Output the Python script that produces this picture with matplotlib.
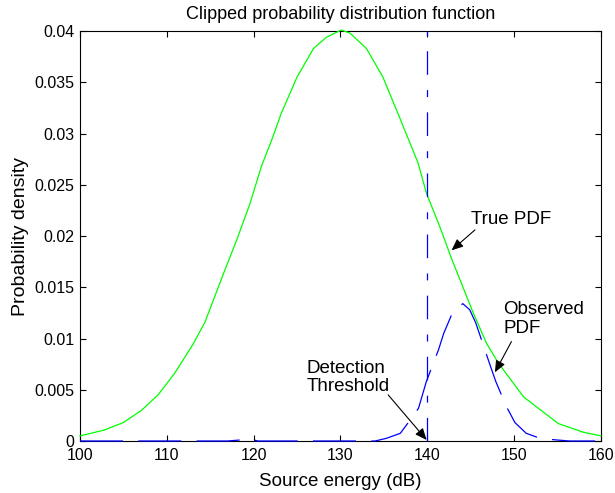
import matplotlib
matplotlib.use("Agg")
import matplotlib.pyplot as plt

plt.rcParams['font.family'] = ['Liberation Sans', 'DejaVu Sans']
plt.rcParams['lines.scale_dashes'] = False

# True PDF (green)
true_x = [100, 101.5, 102.8, 105, 107.1, 109, 110.9, 113, 114.4, 116.7, 118.05,
          119.6, 120.9, 122.1, 123.2, 125, 126.9, 128.4, 130.1, 131.1, 133, 134.9,
          136.85, 138.96, 139.9, 141.5, 142.8, 145.3, 146.85, 148.2, 151.1, 155.1,
          158, 160]
true_y = [0.0005, 0.0008, 0.00107, 0.0018, 0.003, 0.0045, 0.0066, 0.0094, 0.0116,
          0.0167, 0.0196, 0.0232, 0.0268, 0.0294, 0.032, 0.0355, 0.0383, 0.0394,
          0.0401, 0.0398, 0.0383, 0.0355, 0.0315, 0.0271, 0.0242, 0.0208, 0.0178,
          0.0125, 0.0095, 0.0076, 0.0043, 0.0017, 0.00085, 0.0005]

# Observed PDF (blue dashed)
obs_x = [100, 117, 118.5, 119.5, 120.5, 134, 135.3, 136.9, 138, 139, 139.9, 141.3,
         141.9, 143, 144.1, 144.9, 145.6, 147.2, 147.9, 149.1, 150.1, 151.4, 153,
         154.9, 156.4, 160]
obs_y = [0, 0, 0.0001, 0.0002, 0, 0, 0.00026, 0.00075, 0.002, 0.0032, 0.0058,
         0.0089, 0.0105, 0.0127, 0.0134, 0.0128, 0.0115, 0.0075, 0.0058, 0.0034,
         0.0018, 0.00075, 0.00026, 0.0001, 0, 0]

threshold = 140
xticks = [100, 110, 120, 130, 140, 150, 160]
yticks = [0, 0.005, 0.01, 0.015, 0.02, 0.025, 0.03, 0.035, 0.04]
ytick_labels = ['0', '0.005', '0.01', '0.015', '0.02', '0.025', '0.03', '0.035', '0.04']

fig = plt.figure(figsize=(6.15, 4.93), dpi=100)
ax = fig.add_axes([0.130, 0.1055, 0.847, 0.8315])

ax.plot(true_x, true_y, color='#00ff00', lw=0.9, zorder=3, clip_on=False)
ax.plot(obs_x, obs_y, color='#0000ff', lw=0.9, dashes=(31, 11), zorder=3, clip_on=False)
ax.plot([threshold, threshold], [0, 0.04], color='#0000ff', lw=0.9,
        dashes=(17, 11, 5, 11), zorder=3)

ax.set_xlim(100, 160)
ax.set_ylim(0, 0.04)
ax.set_xticks(xticks)
ax.set_xticklabels([str(t) for t in xticks])
ax.set_yticks(yticks)
ax.set_yticklabels(ytick_labels)
ax.tick_params(direction='in', top=True, right=True, length=4, width=0.8,
               labelsize=11.5)
ax.tick_params(axis='x', pad=5)
ax.tick_params(axis='y', pad=4)
for s in ax.spines.values():
    s.set_linewidth(0.8)

ax.set_title('Clipped probability distribution function', fontsize=13, pad=9)
ax.set_xlabel('Source energy (dB)', fontsize=13.5, labelpad=7)
ax.set_ylabel('Probability density', fontsize=14, labelpad=4)

ap = dict(arrowstyle='-|>,head_length=0.7,head_width=0.3', color='k', lw=0.8,
          shrinkA=0, shrinkB=0, mutation_scale=10)
ax.text(145.1, 0.0216, 'True PDF', fontsize=13.5, ha='left', va='center')
ax.annotate('', xy=(142.8, 0.0186), xytext=(145.5, 0.0206), arrowprops=ap)

ax.text(148.75, 0.0119, 'Observed\nPDF', fontsize=13.5, ha='left', va='center',
        linespacing=1.1)
ax.annotate('', xy=(147.8, 0.0067), xytext=(149.7, 0.0097), arrowprops=ap)

ax.text(126.1, 0.0062, 'Detection\nThreshold', fontsize=13.5, ha='left', va='center',
        linespacing=1.1)
ax.annotate('', xy=(139.93, 0.0001), xytext=(135.5, 0.0045), arrowprops=ap)

fig.savefig('out.png', dpi=100)
